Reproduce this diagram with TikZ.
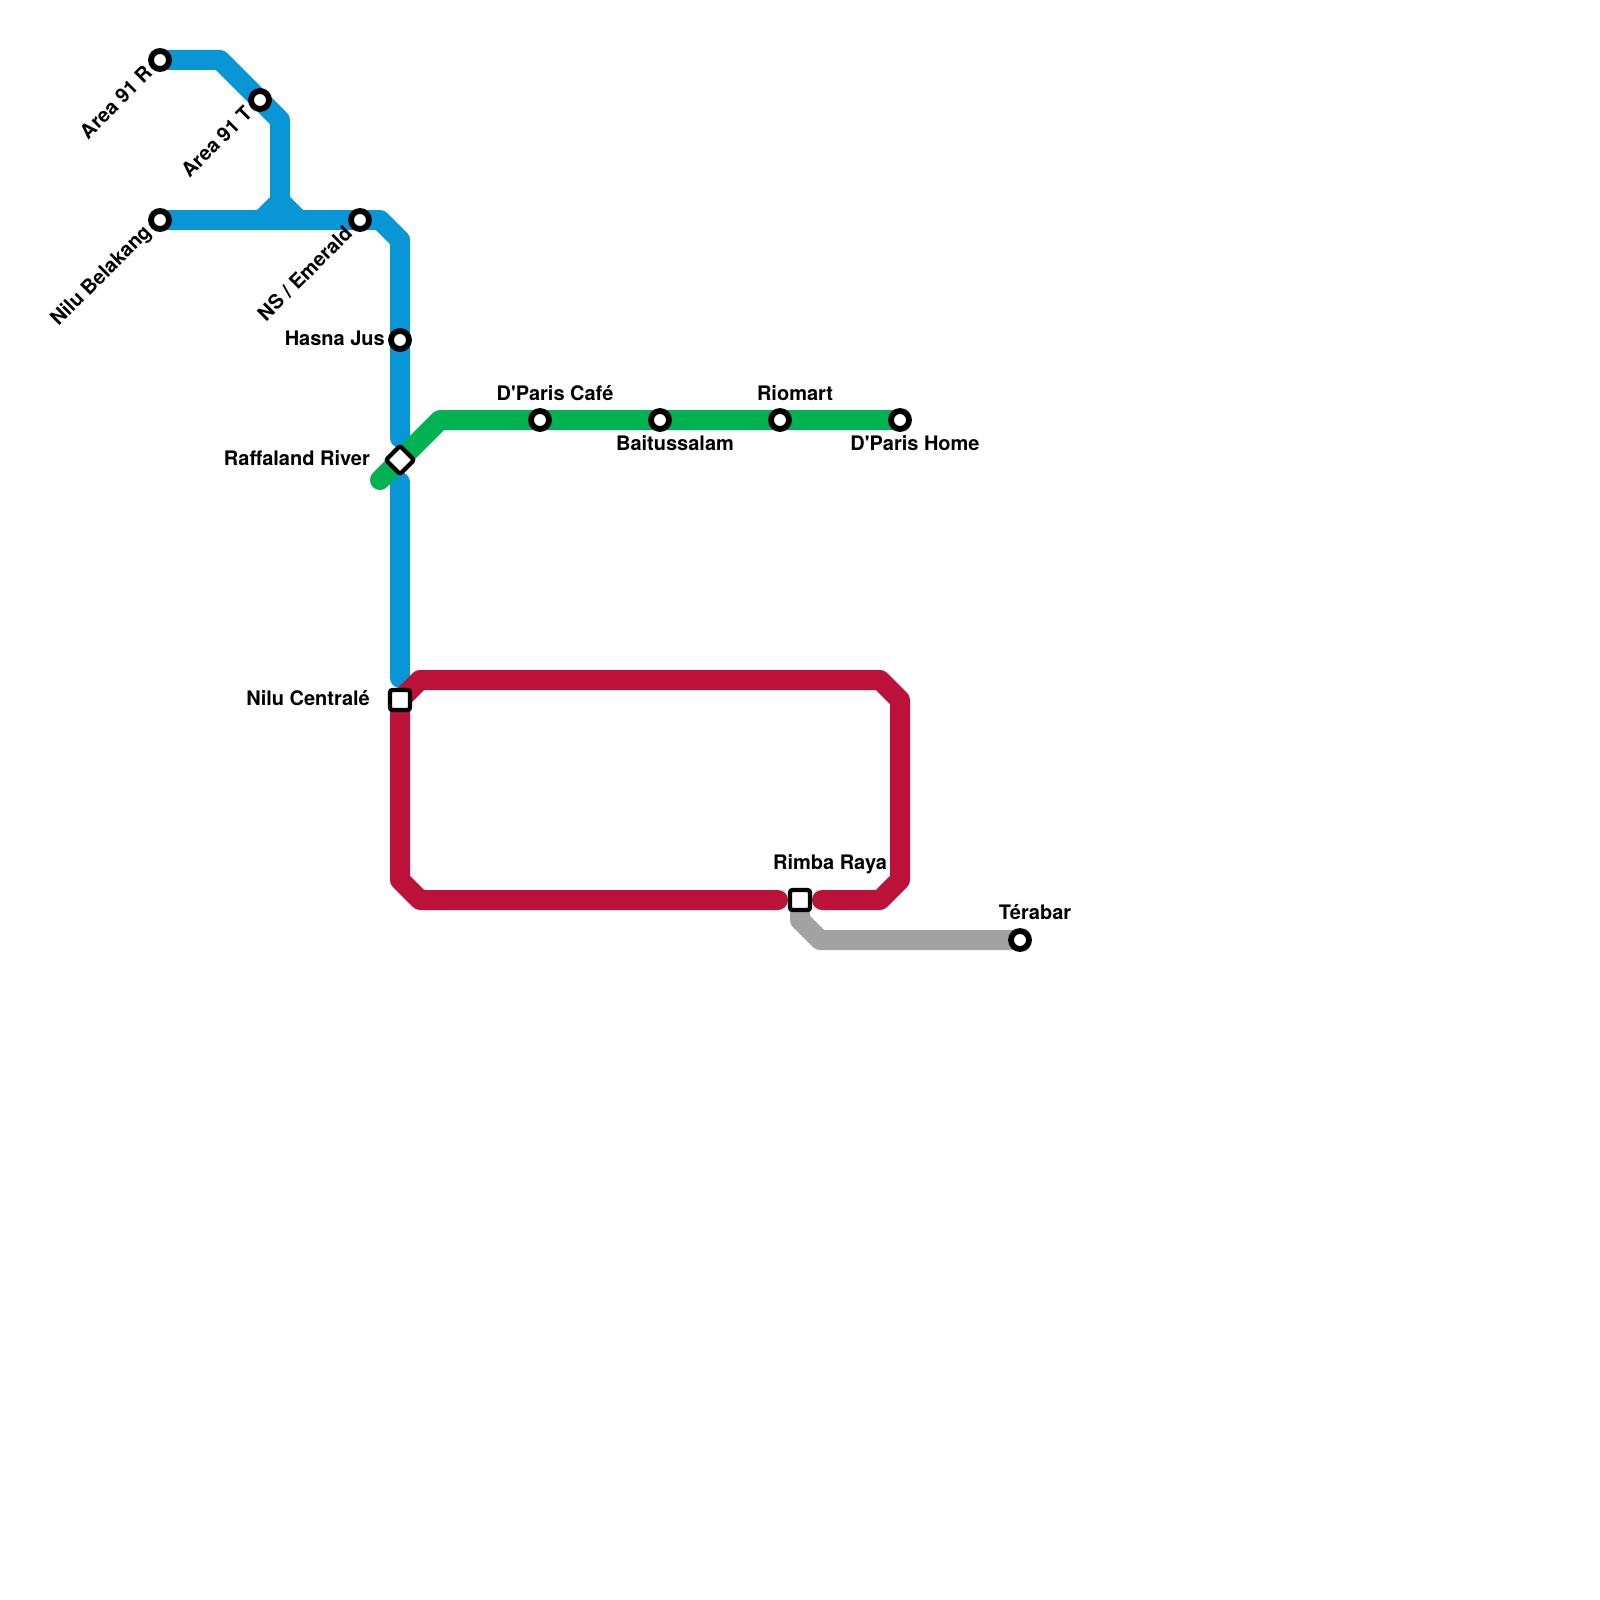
\documentclass[tikz,border=0pt]{standalone}
\usepackage{fontspec}
\newfontfamily\lblfont{TeX Gyre Heros}
\definecolor{lblue}{HTML}{0896D7}
\definecolor{lgreen}{HTML}{00B251}
\definecolor{lred}{HTML}{BC1138}
\definecolor{lgrey}{HTML}{A2A2A2}
\tikzset{
  metro/.style={line width=20pt,line join=round,line cap=round},
  stn/.style={circle,draw=black,fill=white,line width=5.8pt,minimum size=18pt,inner sep=0pt},
  sqstn/.style={rectangle,draw=black,fill=white,line width=4.3pt,rounded corners=2.5pt,minimum size=20pt,inner sep=0pt},
  lbl/.style={font=\lblfont\fontsize{20}{22}\selectfont\bfseries,inner sep=0pt,text=black},
  lblrot/.style={lbl,anchor=east,rotate=45},
}
\begin{document}
\begin{tikzpicture}[x=1pt,y=-1pt]
\useasboundingbox (0,0) rectangle (1600,1600);
% bends
\coordinate (b1) at (220,60);
\coordinate (b2) at (280,120);
\coordinate (j1) at (280,220);
\coordinate (b3) at (380,220);
\coordinate (b4) at (400,240);
\coordinate (e1) at (400,438);
\coordinate (e2) at (400,482);
\coordinate (e3) at (400,678);
\coordinate (g1) at (380,480);
\coordinate (g2) at (440,420);
\coordinate (r1) at (420,680);
\coordinate (r2) at (880,680);
\coordinate (r3) at (900,700);
\coordinate (r4) at (900,880);
\coordinate (r5) at (880,900);
\coordinate (r6) at (822,900);
\coordinate (r7) at (778,900);
\coordinate (r8) at (420,900);
\coordinate (r9) at (400,880);
\coordinate (y1) at (800,920);
\coordinate (y2) at (820,940);
% station positions
\coordinate (a91r) at (160,60);
\coordinate (a91t) at (260,100);
\coordinate (nb) at (160,220);
\coordinate (ns) at (360,220);
\coordinate (hj) at (400,340);
\coordinate (rr) at (400,460);
\coordinate (dpc) at (540,420);
\coordinate (bs) at (660,420);
\coordinate (rm) at (780,420);
\coordinate (dph) at (900,420);
\coordinate (nc) at (400,700);
\coordinate (rb) at (800,900);
\coordinate (tb) at (1020,940);
% lines
\fill[lblue] (256,211) -- (270,197) -- (290,197) -- (304,211) -- cycle;
\draw[metro,lblue,line cap=butt] (a91r) -- (b1) -- (b2) -- (j1);
\draw[metro,lblue,line cap=butt] (nb) -- (b3) -- (b4) -- (e1);
\draw[metro,lblue] (b4) -- (e1);
\draw[metro,lblue] (e2) -- (e3);
\draw[metro,lgrey,line cap=butt] (rb) -- (y1) -- (y2) -- (tb);
\draw[metro,lred] (r6) -- (r5) -- (r4) -- (r3) -- (r2) -- (r1) -- (nc) -- (r9) -- (r8) -- (r7);
\draw[metro,lgreen] (g1) -- (g2) -- (dph);
% station marks on top
\node[stn] (sa91r) at (a91r) {};
\node[stn] (sa91t) at (a91t) {};
\node[stn] (snb) at (nb) {};
\node[stn] (sns) at (ns) {};
\node[stn] (shj) at (hj) {};
\node[sqstn,rotate=45] (srr) at (rr) {};
\node[stn] (sdpc) at (dpc) {};
\node[stn] (sbs) at (bs) {};
\node[stn] (srm) at (rm) {};
\node[stn] (sdph) at (dph) {};
\node[sqstn] (snc) at (nc) {};
\node[sqstn] (srb) at (rb) {};
\node[stn] (stb) at (tb) {};
% labels
\node[lblrot] (la91r) at (148.5,69.5) {Area 91 R};
\node[lblrot] (la91t) at (248.5,109.5) {Area 91 T};
\node[lblrot] (lnb) at (148.5,229.5) {Nilu Belakang};
\node[lblrot] (lns) at (348.5,229.5) {NS / Emerald};
\node[lbl,anchor=east] (lhj) at (385,338) {Hasna Jus};
\node[lbl,anchor=east] (lrr) at (370,458) {Raffaland River};
\node[lbl,anchor=east] (lnc) at (370,698) {Nilu Centralé};
\node[lbl] (ldpc) at (555,393) {D'Paris Café};
\node[lbl] (lbs) at (675,443) {Baitussalam};
\node[lbl] (lrm) at (795,393) {Riomart};
\node[lbl] (ldph) at (915,443) {D'Paris Home};
\node[lbl] (lrb) at (830,864) {Rimba Raya};
\node[lbl] (ltb) at (1035,912.5) {Térabar};
\end{tikzpicture}
\end{document}
